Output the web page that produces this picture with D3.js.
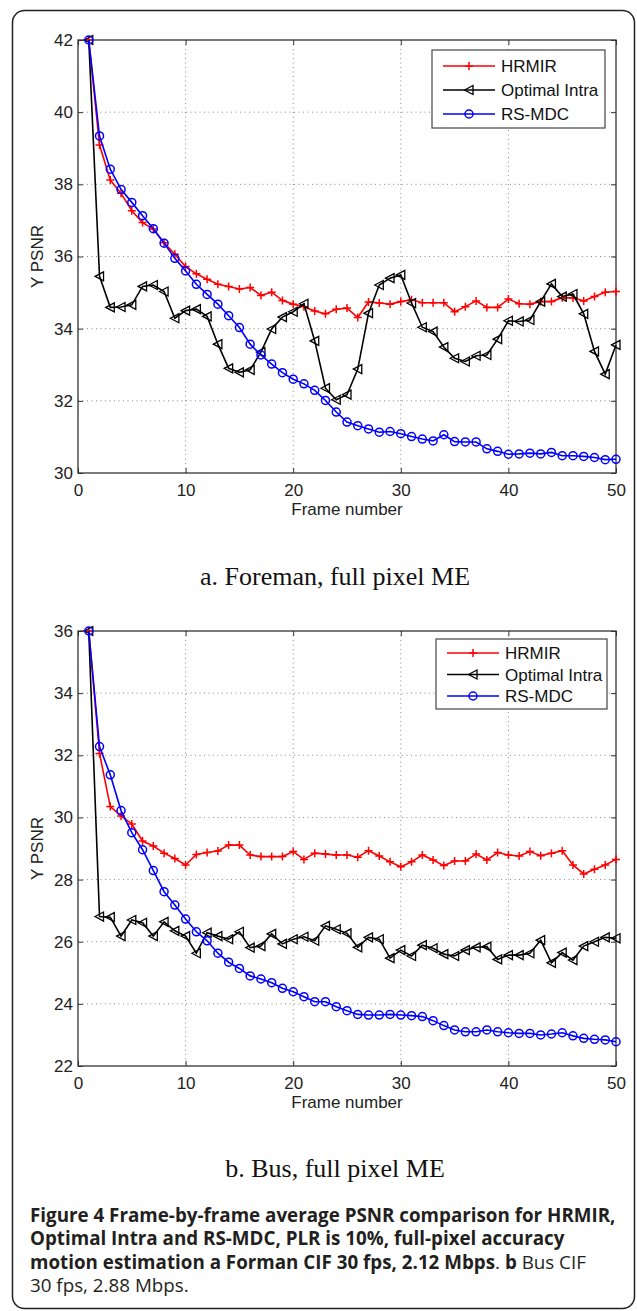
<!DOCTYPE html>
<html lang="en">
<head>
<meta charset="UTF-8">
<title>Figure 4</title>
<script src="https://cdn.jsdelivr.net/npm/d3@7"></script>
<style>
    body { margin: 0; background: #fff; }
    svg { display: block; }
    .tick text { font-family: "Liberation Sans", Arial, sans-serif; font-size: 17px; fill: #222; }
    .tick line { stroke: #333; }
</style>
</head>
<body>
<div id="chart"></div>
<script>
// frame index (x axis)
const frames = [1,2,3,4,5,6,7,8,9,10,11,12,13,14,15,16,17,18,19,20,21,22,23,24,25,
    26,27,28,29,30,31,32,33,34,35,36,37,38,39,40,41,42,43,44,45,46,47,48,49,50];

const seriesNames = ["HRMIR", "Optimal Intra", "RS-MDC"];
const xTicks = [0, 10, 20, 30, 40, 50];

// panel a: Foreman
const foremanTicks = [30, 32, 34, 36, 38, 40, 42];
const foremanHRMIR = [42.0,39.09,38.12,37.75,37.27,36.94,36.76,36.38,36.06,35.72,35.52,35.37,35.23,35.17,35.10,
    35.14,34.92,35.01,34.78,34.68,34.61,34.49,34.41,34.54,34.57,34.31,34.74,34.71,34.68,34.75,
    34.80,34.72,34.72,34.72,34.47,34.61,34.77,34.59,34.59,34.82,34.69,34.68,34.75,34.75,34.86,
    34.85,34.77,34.89,35.01,35.03];
const foremanIntra = [42.0,35.45,34.59,34.60,34.66,35.17,35.21,35.03,34.29,34.50,34.54,34.34,33.57,32.90,32.79,
    32.86,33.35,33.99,34.32,34.47,34.69,33.66,32.35,32.03,32.17,32.88,34.43,35.21,35.40,35.49,
    34.71,34.04,33.92,33.49,33.18,33.09,33.25,33.27,33.71,34.22,34.20,34.24,34.75,35.24,34.89,
    34.96,34.41,33.37,32.74,33.55];
const foremanRSMDC = [42.0,39.34,38.42,37.86,37.50,37.13,36.77,36.37,35.95,35.60,35.23,34.95,34.68,34.36,34.03,
    33.57,33.27,33.02,32.78,32.60,32.47,32.29,32.01,31.69,31.41,31.31,31.22,31.13,31.15,31.09,
    31.01,30.94,30.89,31.06,30.87,30.86,30.86,30.67,30.60,30.52,30.53,30.55,30.53,30.57,30.48,
    30.48,30.46,30.43,30.37,30.38];

// panel b: Bus
const busTicks = [22, 24, 26, 28, 30, 32, 34, 36];
const busHRMIR = [36.0,32.06,30.35,30.05,29.79,29.24,29.08,28.85,28.68,28.47,28.81,28.87,28.92,29.11,29.11,
    28.79,28.74,28.74,28.74,28.90,28.65,28.85,28.82,28.79,28.79,28.72,28.93,28.76,28.57,28.41,
    28.57,28.79,28.63,28.45,28.60,28.60,28.82,28.63,28.87,28.79,28.76,28.90,28.77,28.85,28.93,
    28.47,28.18,28.33,28.47,28.65];
const busIntra = [36.0,26.81,26.79,26.18,26.70,26.61,26.18,26.64,26.35,26.18,25.63,26.29,26.18,26.08,26.32,
    25.81,25.86,26.25,25.93,26.08,26.16,26.03,26.51,26.40,26.27,25.82,26.14,26.08,25.47,25.73,
    25.54,25.89,25.79,25.60,25.54,25.73,25.82,25.84,25.43,25.57,25.57,25.63,26.05,25.32,25.65,
    25.41,25.86,26.00,26.14,26.11];
const busRSMDC = [36.0,32.28,31.37,30.22,29.51,28.96,28.29,27.61,27.18,26.73,26.32,26.03,25.63,25.34,25.14,
    24.90,24.80,24.68,24.50,24.39,24.23,24.07,24.07,23.91,23.78,23.66,23.64,23.64,23.66,23.64,
    23.62,23.59,23.46,23.30,23.16,23.10,23.10,23.16,23.10,23.07,23.05,23.05,23.00,23.03,23.07,
    22.97,22.89,22.86,22.84,22.78];

const W = 637, H = 1311;
const colors = ["#ff0000", "#000000", "#0000ff"];
const markers = ["plus", "triangle", "circle"];

const svg = d3.select("#chart").append("svg")
    .attr("width", W)
    .attr("height", H);

// outer rounded frame
svg.append("rect")
    .attr("x", 12.5).attr("y", 10.5)
    .attr("width", 622).attr("height", 1298)
    .attr("rx", 12)
    .attr("fill", "none")
    .attr("stroke", "#222")
    .attr("stroke-width", 1.5);

function drawMarker(g, type, color) {
    if (type === "plus") {
        g.append("path").attr("d", "M-4,0H4M0,-4V4")
            .attr("stroke", color).attr("stroke-width", 1.5);
    } else if (type === "triangle") {
        g.append("path").attr("d", "M-4.5,0L4,-4.5L4,4.5Z")
            .attr("fill", "none").attr("stroke", color).attr("stroke-width", 1.3);
    } else {
        g.append("circle").attr("r", 4)
            .attr("fill", "none").attr("stroke", color).attr("stroke-width", 1.5);
    }
}

function panel(opts) {
    const x = d3.scaleLinear().domain([0, 50]).range([78, 616]);
    const y = d3.scaleLinear().domain(d3.extent(opts.yTicks)).range([opts.bottom, opts.top]);
    const g = svg.append("g");

    // dotted grid
    g.append("g").selectAll("line").data(xTicks.slice(1, -1)).join("line")
        .attr("x1", d => x(d)).attr("x2", d => x(d))
        .attr("y1", opts.top).attr("y2", opts.bottom)
        .attr("stroke", "#8a8a8a").attr("stroke-dasharray", "1,3.5");
    g.append("g").selectAll("line").data(opts.yTicks.slice(1, -1)).join("line")
        .attr("y1", d => y(d)).attr("y2", d => y(d))
        .attr("x1", 78).attr("x2", 616)
        .attr("stroke", "#8a8a8a").attr("stroke-dasharray", "1,3.5");

    // axes with inward ticks on all four sides
    g.append("g").attr("transform", `translate(0,${opts.bottom})`)
        .call(d3.axisBottom(x).tickValues(xTicks).tickSize(-5).tickPadding(11));
    g.append("g").attr("transform", `translate(0,${opts.top})`)
        .call(d3.axisTop(x).tickValues(xTicks).tickSize(-5).tickFormat(""));
    g.append("g").attr("transform", "translate(78,0)")
        .call(d3.axisLeft(y).tickValues(opts.yTicks).tickSize(-5).tickPadding(5));
    g.append("g").attr("transform", "translate(616,0)")
        .call(d3.axisRight(y).tickValues(opts.yTicks).tickSize(-5).tickFormat(""));
    g.selectAll(".domain").remove();

    g.append("rect")
        .attr("x", 78).attr("y", opts.top)
        .attr("width", 616 - 78).attr("height", opts.bottom - opts.top)
        .attr("fill", "none").attr("stroke", "#333").attr("stroke-width", 1.3);

    // series
    const line = d3.line().x((d, i) => x(frames[i])).y(d => y(d));
    opts.series.forEach((vals, k) => {
        g.append("path").datum(vals)
            .attr("d", line)
            .attr("fill", "none")
            .attr("stroke", colors[k])
            .attr("stroke-width", 1.6);
        g.append("g").selectAll("g").data(vals).join("g")
            .attr("transform", (d, i) => `translate(${x(frames[i])},${y(d)})`)
            .each(function () { drawMarker(d3.select(this), markers[k], colors[k]); });
    });

    // axis labels
    g.append("text")
        .attr("x", 347).attr("y", opts.bottom + 42)
        .attr("text-anchor", "middle")
        .attr("font-family", "Liberation Sans, Arial, sans-serif")
        .attr("font-size", 17).attr("fill", "#222")
        .text("Frame number");
    g.append("text")
        .attr("transform", `translate(43,${(opts.top + opts.bottom) / 2}) rotate(-90)`)
        .attr("text-anchor", "middle")
        .attr("font-family", "Liberation Sans, Arial, sans-serif")
        .attr("font-size", 17).attr("fill", "#222")
        .text("Y PSNR");

    // legend
    const L = opts.legend;
    const lg = g.append("g");
    lg.append("rect")
        .attr("x", L.x).attr("y", L.y).attr("width", L.w).attr("height", L.h)
        .attr("fill", "#fff").attr("stroke", "#444").attr("stroke-width", 1.2);
    seriesNames.forEach((name, k) => {
        const ry = L.y + L.first + k * L.step;
        lg.append("line")
            .attr("x1", L.x + 11).attr("x2", L.x + 63)
            .attr("y1", ry).attr("y2", ry)
            .attr("stroke", colors[k]).attr("stroke-width", 1.6);
        const m = lg.append("g").attr("transform", `translate(${L.x + 37},${ry})`);
        drawMarker(m, markers[k], colors[k]);
        lg.append("text")
            .attr("x", L.x + 69).attr("y", ry).attr("dy", "0.36em")
            .attr("font-family", "Liberation Sans, Arial, sans-serif")
            .attr("font-size", 17).attr("fill", "#111")
            .text(name);
    });

    // sub caption
    svg.append("text")
        .attr("x", 335).attr("y", opts.captionY)
        .attr("text-anchor", "middle")
        .attr("font-family", "Liberation Serif, Times New Roman, serif")
        .attr("font-size", 26).attr("fill", "#111")
        .text(opts.caption);
}

panel({
    top: 40, bottom: 473, yTicks: foremanTicks,
    series: [foremanHRMIR, foremanIntra, foremanRSMDC],
    legend: { x: 432, y: 50, w: 173, h: 78, first: 16, step: 24 },
    caption: "a. Foreman, full pixel ME", captionY: 585
});

panel({
    top: 631, bottom: 1066, yTicks: busTicks,
    series: [busHRMIR, busIntra, busRSMDC],
    legend: { x: 436, y: 639, w: 171, h: 70, first: 14, step: 21.5 },
    caption: "b. Bus, full pixel ME", captionY: 1177
});

// figure caption
const capLines = [
    [["Figure 4 Frame-by-frame average PSNR comparison for HRMIR,", 700]],
    [["Optimal Intra and RS-MDC, PLR is 10%, full-pixel accuracy", 700]],
    [["motion estimation a Forman CIF 30 fps, 2.12 Mbps", 700], [". ", 400], ["b", 700], [" Bus CIF", 400]],
    [["30 fps, 2.88 Mbps.", 400]]
];
const cap = svg.append("text")
    .attr("font-family", "Open Sans, sans-serif")
    .attr("font-size", 18.8)
    .attr("fill", "#231f20");
capLines.forEach((parts, i) => {
    parts.forEach((p, j) => {
        const t = cap.append("tspan").attr("font-weight", p[1]).text(p[0]);
        if (j === 0) t.attr("x", 30).attr("y", 1222 + i * 23.4);
    });
});
</script>
</body>
</html>
